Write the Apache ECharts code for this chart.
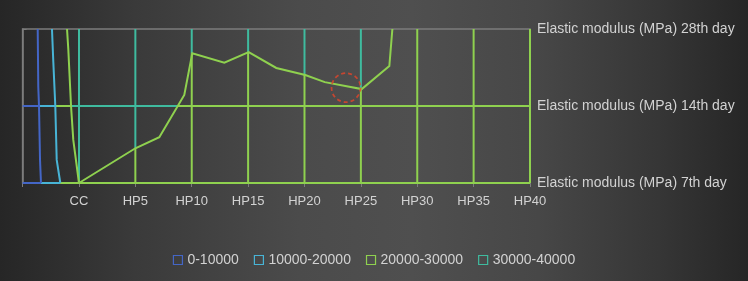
<!DOCTYPE html>
<html>
<head>
<meta charset="utf-8">
<script src="https://cdn.jsdelivr.net/npm/echarts@6/dist/echarts.min.js"></script>
<style>
    html, body { margin: 0; padding: 0; }
    #surface {
        width: 748px; height: 281px;
        background: linear-gradient(to right, #262626 0%, #3a3a3a 18%, #4b4b4b 40%, #4f4f4f 55%, #474747 72%, #363636 88%, #262626 100%);
    }
</style>
</head>
<body>
<div id="surface"></div>
<script>
    // x: 0 = left edge, 1 = CC, 2 = HP5 ... 9 = HP40 ; y: 0 = 7th day, 1 = 14th day, 2 = 28th day
    var xCategories = ['', 'CC', 'HP5', 'HP10', 'HP15', 'HP20', 'HP25', 'HP30', 'HP35', 'HP40'];
    var yCategories = ['Elastic modulus (MPa) 7th day', 'Elastic modulus (MPa) 14th day', 'Elastic modulus (MPa) 28th day'];
    var bands = ['0-10000', '10000-20000', '20000-30000', '30000-40000'];
    var bandColors = ['#4466c6', '#48b4d6', '#8fd14f', '#3fbb9f'];

    // contour lines (band boundaries)
    var contour10000 = [[0.268, 2], [0.278, 1.25], [0.291, 1], [0.309, 0.3], [0.326, 0]];
    var contour20000 = [[0.521, 2], [0.545, 1.57], [0.58, 1], [0.605, 0.3], [0.669, 0]];
    var contour30000a = [[0.788, 2], [0.811, 1.73], [0.859, 1], [0.899, 0.56], [1, 0]];
    var contour30000b = [[1, 0], [2, 0.451], [2.425, 0.594], [2.868, 1.143], [3.01, 1.684], [3.578, 1.563],
        [4.01, 1.70], [4.5, 1.494], [5.014, 1.403], [5.36, 1.31], [6.015, 1.22], [6.505, 1.519], [6.559, 2]];

    // wireframe rows: [from x, to x, band]
    var row7th = [[0, 0.326, 0], [0.326, 0.669, 1], [0.669, 9, 2]];
    var row14th = [[0, 0.291, 0], [0.291, 0.58, 1], [0.58, 0.859, 2], [0.859, 2.753, 3], [2.753, 9, 2]];
    // wireframe columns: above split -> 30000-40000, below -> 20000-30000
    var colSplit = [null, 0, 0.451, 1.684, 1.70, 1.403, 1.22, 2, 2, 2];

    var highlight = [[5.737, 1.238]];

    var wire = [[], [], [], []];
    row7th.forEach(function (s) { wire[s[2]].push({coords: [[s[0], 0], [s[1], 0]]}); });
    row14th.forEach(function (s) { wire[s[2]].push({coords: [[s[0], 1], [s[1], 1]]}); });
    colSplit.forEach(function (v, i) {
        if (v === null) return;
        if (v > 0) wire[2].push({coords: [[i, 0], [i, v]]});
        if (v < 2) wire[3].push({coords: [[i, v], [i, 2]]});
    });
    var contours = [[contour10000], [contour20000], [contour30000a, contour30000b], []];

    var font = 'Liberation Sans';
    var series = [];
    bands.forEach(function (name, b) {
        series.push({
            name: name, type: 'lines', coordinateSystem: 'cartesian2d', polyline: true, z: 2,
            lineStyle: {color: bandColors[b], width: 2, opacity: 1, curveness: 0},
            itemStyle: {color: bandColors[b]},
            silent: true,
            data: wire[b]
        });
    });
    bands.forEach(function (name, b) {
        series.push({
            name: name, type: 'lines', coordinateSystem: 'cartesian2d', polyline: true, z: 3,
            lineStyle: {color: bandColors[b], width: 2, opacity: 1, curveness: 0},
            itemStyle: {color: bandColors[b]},
            silent: true,
            data: contours[b].map(function (c) { return {coords: c}; })
        });
    });
    series.push({
        type: 'scatter', z: 4, symbol: 'circle', symbolSize: 29, silent: true,
        itemStyle: {color: 'rgba(0,0,0,0)', borderColor: '#e2452b', borderWidth: 1.8, borderType: [4, 3]},
        data: highlight
    });

    var chart = echarts.init(document.getElementById('surface'), null, {renderer: 'canvas'});
    chart.setOption({
        backgroundColor: 'transparent',
        animation: false,
        textStyle: {fontFamily: font},
        grid: {
            left: 22.6, right: 218, top: 29, bottom: 98,
            show: true, borderColor: '#7c7c7c', borderWidth: 1.5, backgroundColor: 'transparent'
        },
        legend: {
            left: 'center', top: 248, icon: 'rect',
            itemWidth: 9, itemHeight: 9, itemGap: 15,
            textStyle: {color: '#d2d2d2', fontSize: 14, fontFamily: font},
            data: bands.map(function (name, b) {
                return {name: name, itemStyle: {color: 'rgba(0,0,0,0)', borderColor: bandColors[b], borderWidth: 1.2}};
            })
        },
        xAxis: {
            type: 'value', min: 0, max: 9, interval: 1,
            axisLine: {show: true, lineStyle: {color: '#7c7c7c', width: 1.5}},
            axisTick: {show: true, length: 4, lineStyle: {color: '#7c7c7c'}},
            splitLine: {show: false},
            axisLabel: {
                color: '#d2d2d2', fontSize: 13, margin: 12, fontFamily: font,
                formatter: function (v) { return xCategories[v] || ''; }
            }
        },
        yAxis: {
            type: 'value', position: 'right', min: 0, max: 2, interval: 1,
            axisLine: {show: true, lineStyle: {color: '#7c7c7c', width: 1.5}},
            axisTick: {show: true, length: 4, lineStyle: {color: '#7c7c7c'}},
            splitLine: {show: false},
            axisLabel: {
                color: '#d2d2d2', fontSize: 14, margin: 7, fontFamily: font,
                formatter: function (v) { return yCategories[v] || ''; }
            }
        },
        series: series
    });
</script>
</body>
</html>
